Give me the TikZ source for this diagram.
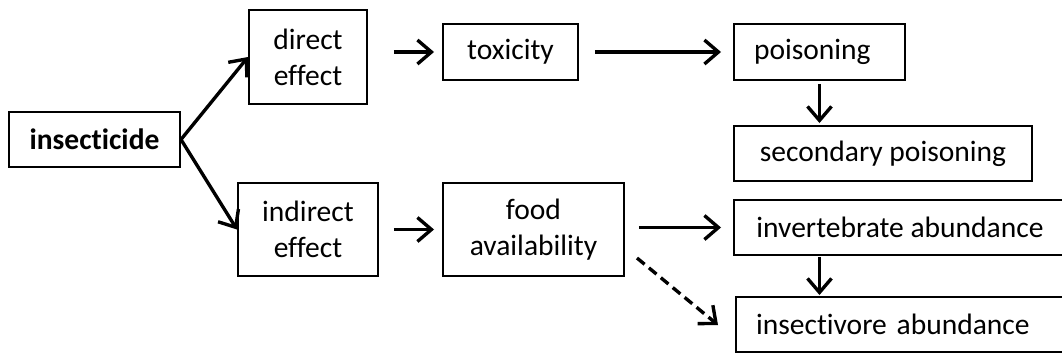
\documentclass[tikz,border=0pt]{standalone}
\usepackage{fontspec}
\setmainfont{Carlito}[Ligatures={NoCommon,NoContextual,NoRequired}]
\usepackage{tikz}
\usetikzlibrary{arrows.meta,positioning,calc}

\begin{document}
\begin{tikzpicture}[
    box/.style={draw, line width=1.4pt, minimum height=1.375cm, inner sep=0pt, align=center, font=\fontsize{21}{25.6}\selectfont},
    leftbox/.style={box, align=left, inner xsep=0.5cm},
    link/.style={-{Straight Barb[length=0.35cm,width=0.6cm]}, line width=2.4pt},
    dlink/.style={link, dash pattern=on 7pt off 4pt}
]
    % Frame of the picture
    \useasboundingbox (0,0) rectangle (26.55,-8.85);
    \clip (0,0) rectangle (26.55,-8.85);

    % Source
    \node[box, font=\fontsize{21}{25.6}\selectfont\bfseries, minimum width=4.275cm] (insecticide) at (2.3625,-3.4875) {insecticide};

    % Effects
    \node[box, minimum width=2.95cm, minimum height=2.35cm] (direct) at (7.7,-1.425) {direct\\effect};
    \node[box, minimum width=3.5cm, minimum height=2.325cm] (indirect) at (7.7,-5.7375) {indirect\\effect};

    % Middle column
    \node[box, minimum width=3.375cm, minimum height=1.4cm] (toxicity) at (12.7625,-1.3) {toxicity};
    \node[box, minimum width=4.525cm, minimum height=2.325cm] (food) at (13.3375,-5.7375) {food\\availability};

    % Outcomes
    \node[leftbox, text width=3.275cm, minimum height=1.4cm] (poisoning) at (20.4875,-1.3) {poisoning};
    \node[box, minimum width=7.45cm] (secondary) at (22.075,-3.8375) {secondary poisoning};
    \node[box, minimum width=8.3cm] (invertebrate) at (22.5,-5.6875) {invertebrate abundance};
    \node[leftbox, text width=7.25cm] (insectivore) at (22.525,-8.1125) {insectivore abundance};

    % Arrows
    \draw[link] (insecticide.east) -- (direct.west);
    \draw[link] (insecticide.east) -- (indirect.west);
    \draw[link, shorten <=0.65cm, shorten >=0.2cm] (direct.east |- toxicity.west) -- (toxicity.west);
    \draw[link, shorten <=0.4cm, shorten >=0.3cm] (toxicity.east) -- (poisoning.west);
    \draw[link, shorten <=0.075cm, shorten >=0.05cm] (poisoning.south) -- (poisoning.south |- secondary.north);
    \draw[link, shorten <=0.375cm, shorten >=0.2cm] (indirect.east |- food.west) -- (food.west);
    \draw[link, shorten <=0.35cm, shorten >=0.3cm] (food.east |- invertebrate.west) -- (invertebrate.west);
    \draw[link, shorten <=0.025cm, shorten >=0.025cm] (poisoning.south |- invertebrate.south) -- (poisoning.south |- insectivore.north);

    % Dashed link
    \coordinate (dashstart) at (15.925,-6.45);
    \coordinate (dashend) at (17.95,-8.125);
    \draw[dlink] (dashstart) -- (dashend);
\end{tikzpicture}
\end{document}
